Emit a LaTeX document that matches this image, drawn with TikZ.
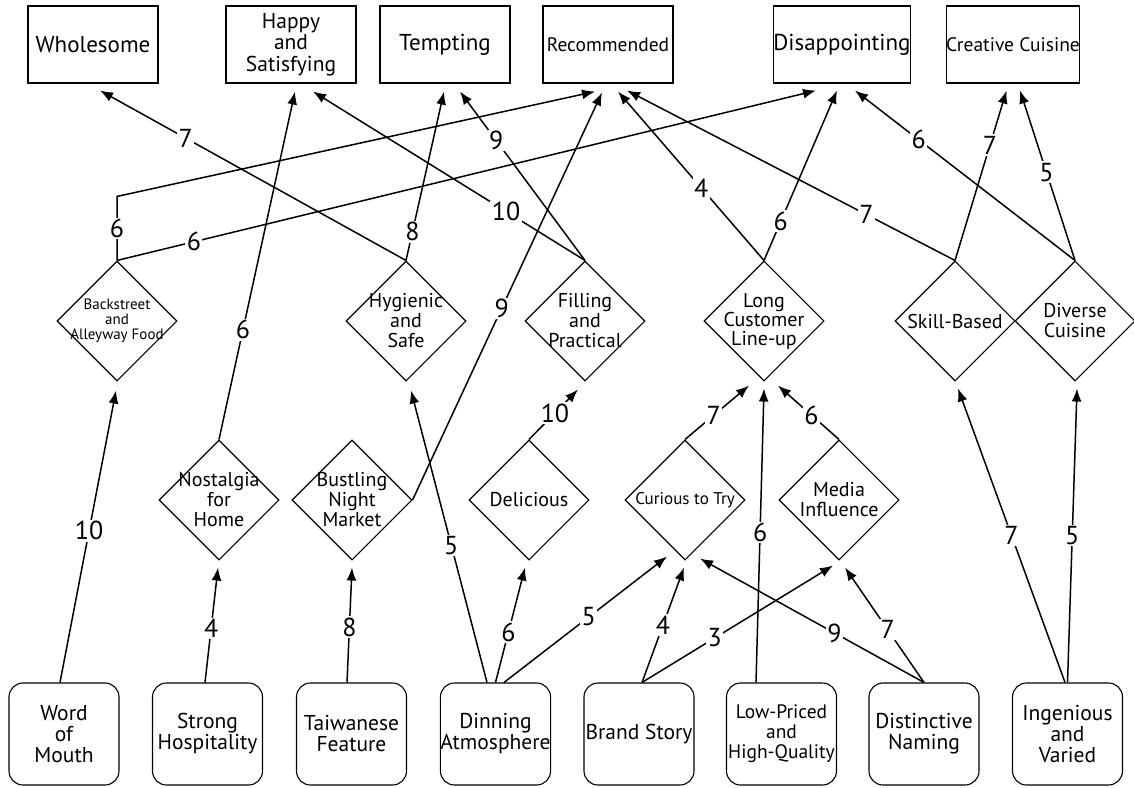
\documentclass[tikz,border=0pt]{standalone}
\usepackage{fontspec}
\setmainfont{PT Sans}
\usetikzlibrary{shapes.geometric, arrows.meta}

\begin{document}
\begin{tikzpicture}[x=1pt, y=-1pt, line width=1.5pt,
  topbox/.style = {draw, line width=1.1pt, rectangle, minimum width=130pt, minimum height=77pt, inner sep=0pt, align=center, font=\fontsize{23}{20}\selectfont},
  basebox/.style = {draw, line width=1.1pt, rounded corners=14pt, minimum width=110pt, minimum height=102pt, inner sep=0pt, align=center, font=\fontsize{21.5}{21}\selectfont},
  dia/.style = {draw, line width=1.1pt, diamond, minimum width=120pt, minimum height=120pt, inner sep=-20pt, align=center, font=\fontsize{20}{20}\selectfont},
  num/.style = {fill=white, inner sep=1.5pt, font=\fontsize{26}{26}\selectfont},
  arr/.style = {-{Latex[length=13pt, width=10pt]}}]
  \useasboundingbox (0,0) rectangle (1134,787);

  % top row
  \node[topbox] (whol) at (93,44.5) {Wholesome};
  \node[topbox, font=\fontsize{21.5}{21.5}\selectfont] (happy) at (291,44.5) {Happy\\and\\Satisfying};
  \node[topbox] (tempt) at (445,44.5) {Tempting};
  \node[topbox, font=\fontsize{19.5}{19}\selectfont] (recom) at (608,44.5) {Recommended};
  \node[topbox] (disap) at (842,44.5) {Disappointing};
  \node[topbox, font=\fontsize{19.5}{19}\selectfont] (creat) at (1013,44.5) {Creative Cuisine};

  % middle diamonds
  \node[dia, font=\fontsize{15}{15}\selectfont] (back) at (117,321) {Backstreet\\and\\Alleyway Food};
  \node[dia] (hyg) at (406,321) {Hygienic\\and\\Safe};
  \node[dia] (fill) at (585,321) {Filling\\and\\Practical};
  \node[dia, font=\fontsize{20}{19}\selectfont] (longq) at (764,321) {Long\\Customer\\Line-up};
  \node[dia] (skill) at (955,321) {Skill-Based};
  \node[dia] (diverse) at (1075,321) {Diverse\\Cuisine};

  % lower diamonds
  \node[dia] (nost) at (219,500) {Nostalgia\\for\\Home};
  \node[dia] (bust) at (352,500) {Bustling\\Night\\Market};
  \node[dia] (deli) at (529,500) {Delicious};
  \node[dia, font=\fontsize{17}{17}\selectfont] (curi) at (685,500) {Curious to Try};
  \node[dia] (media) at (839,500) {Media\\Influence};

  % bottom row
  \node[basebox] (wom) at (64,734) {Word\\of\\Mouth};
  \node[basebox] (hosp) at (207.5,734) {Strong\\Hospitality};
  \node[basebox] (taiw) at (351.5,734) {Taiwanese\\Feature};
  \node[basebox] (dinn) at (495.5,734) {Dinning\\Atmosphere};
  \node[basebox] (brand) at (639,734) {Brand Story};
  \node[basebox, font=\fontsize{19.5}{20}\selectfont] (lowp) at (781.5,734) {Low-Priced\\and\\High-Quality};
  \node[basebox] (dist) at (924,734) {Distinctive\\Naming};
  \node[basebox] (ingen) at (1067.5,734) {Ingenious\\and\\Varied};

  \coordinate (bend) at ([yshift=64pt]back.north);

  % bottom -> diamonds
  \draw[arr] ([xshift=-4pt]wom.north) -- node[num, pos=.52] {10} ([xshift=-1pt, yshift=-9pt]back.south);
  \draw[arr] ([xshift=-2.5pt]hosp.north) -- node[num, pos=.47] {4} ([xshift=-1pt, yshift=-7pt]nost.south);
  \draw[arr] ([xshift=-4.5pt]taiw.north) -- node[num, pos=.48] {8} ([yshift=-7pt]bust.south);
  \draw[arr] ([xshift=-8.5pt]dinn.north) -- node[num, pos=.47] {5} ([xshift=5pt, yshift=-9pt]hyg.south);
  \draw[arr] (dinn.north) -- node[num, pos=.44] {6} ([xshift=-4pt, yshift=-7pt]deli.south);
  \draw[arr] ([xshift=8.5pt]dinn.north) -- node[num, pos=.52] {5} ([xshift=-18pt, yshift=4pt]curi.south);
  \draw[arr] ([xshift=3pt]brand.north) -- node[num, pos=.5] {4} ([xshift=-1pt, yshift=-7pt]curi.south);
  \draw[arr] ([xshift=3pt]brand.north) -- node[num, pos=.38] {3} ([xshift=-6pt, yshift=-5pt]media.south);
  \draw[arr] ([xshift=-25.5pt]lowp.north) -- node[num, pos=.51] {6} ([yshift=-7pt]longq.south);
  \draw[arr] (dist.north) -- node[num, pos=.4] {9} ([xshift=15pt, yshift=2pt]curi.south);
  \draw[arr] (dist.north) -- node[num, pos=.46] {7} ([xshift=6pt, yshift=-7pt]media.south);
  \draw[arr] ([xshift=-2.5pt]ingen.north) -- node[num, pos=.5] {7} ([xshift=3pt, yshift=-7pt]skill.south);
  \draw[arr] (ingen.north) -- node[num, pos=.5] {5} ([xshift=2pt, yshift=-7pt]diverse.south);

  % lower diamonds -> up
  \draw[arr] (deli.north) -- node[num, pos=.53] {10} ([xshift=-7pt, yshift=-8pt]fill.south);
  \draw[arr] (curi.north) -- node[num, pos=.45] {7} ([xshift=-15pt, yshift=-4pt]longq.south);
  \draw[arr] (media.north) -- node[num, pos=.45] {6} ([xshift=14pt, yshift=-4pt]longq.south);
  \draw[arr] (nost.north) -- node[num, pos=.315] {6} ([xshift=4pt, yshift=-8pt]happy.south);
  \draw[arr] (bust.east) -- node[num, pos=.47] {9} ([xshift=-6pt, yshift=-9pt]recom.south);

  % middle diamonds -> top
  \draw[arr] (back.north) -- node[num] {6} (bend) -- ([xshift=-13pt, yshift=-8pt]recom.south);
  \draw[arr] (back.north) -- node[num, pos=.11] {6} ([xshift=-26pt, yshift=-7pt]disap.south);
  \draw[arr] (hyg.north) -- node[num, pos=.72] {7} ([xshift=7pt, yshift=-7pt]whol.south);
  \draw[arr] (hyg.north) -- node[num, pos=.17] {8} ([xshift=-1pt, yshift=-8pt]tempt.south);
  \draw[arr] (fill.north) -- node[num, pos=.29] {10} ([xshift=22pt, yshift=-8pt]happy.south);
  \draw[arr] (fill.north) -- node[num, pos=.71] {9} ([xshift=15pt, yshift=-8pt]tempt.south);
  \draw[arr] (longq.north) -- node[num, pos=.43] {4} ([xshift=10pt, yshift=-8pt]recom.south);
  \draw[arr] (longq.north) -- node[num, pos=.23] {6} ([xshift=-5pt, yshift=-7pt]disap.south);
  \draw[arr] (skill.north) -- node[num, pos=.27] {7} ([xshift=19pt, yshift=-7pt]recom.south);
  \draw[arr] (skill.north) -- node[num, pos=.68] {7} ([xshift=-6.5pt, yshift=-7pt]creat.south);
  \draw[arr] (diverse.north) -- node[num, pos=.52] {5} ([xshift=7pt, yshift=-7pt]creat.south);
  \draw[arr] (diverse.north) -- node[num, pos=.71] {6} ([xshift=13pt, yshift=-7pt]disap.south);
\end{tikzpicture}
\end{document}
